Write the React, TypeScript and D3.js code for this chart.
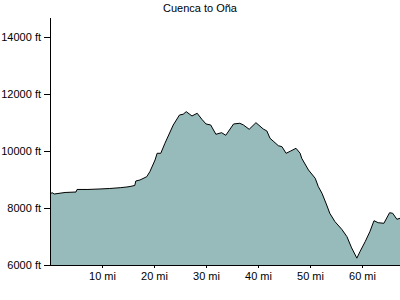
import React, { useEffect, useRef } from "react";
import * as d3 from "d3";

const title = "Cuenca to Oña";
const miles = [
  0, 0.4, 0.8, 2.9, 5.0, 5.2, 7.3, 9.6, 11.5, 13.5, 14.8, 15.4, 16.3, 16.5, 17.3, 18.6, 19.2, 20.2, 20.6, 21.3,
  22.1, 23.7, 24.9, 25.6, 26.2, 27.3, 28.3, 29.2, 30.0, 30.9, 31.9, 33.0, 33.8, 35.3, 36.5, 37.2, 38.3, 39.6,
  41.0, 41.7, 42.3, 42.9, 43.9, 44.6, 45.4, 46.3, 47.3, 48.1, 48.4, 49.7, 51.0, 51.6, 52.3, 53.2, 53.8, 54.8,
  56.1, 57.1, 58.0, 58.7, 59.0, 59.6, 60.6, 61.5, 62.3, 63.1, 64.2, 65.3, 65.9, 66.7, 67.3,
];
const elevation = [
  8480, 8540, 8490, 8544, 8560, 8650, 8650, 8667, 8684, 8712, 8737, 8754, 8790, 8947, 8982, 9098, 9274, 9684, 9919, 9919,
  10270, 10912, 11263, 11288, 11379, 11228, 11323, 11112, 10947, 10912, 10586, 10642, 10551, 10947, 10972, 10912, 10761, 10993,
  10772, 10702, 10446, 10351, 10186, 10151, 9919, 10000, 10095, 9919, 9744, 9333, 9042, 8747, 8516, 8105, 7814, 7519,
  7253, 6993, 6600, 6351, 6240, 6467, 6818, 7168, 7554, 7484, 7463, 7835, 7814, 7604, 7639,
];
const yTicks = [6000, 8000, 10000, 12000, 14000];
const xTicks = [10, 20, 30, 40, 50, 60];

const W = 400;
const H = 300;
const FONT = "'Liberation Sans', Arial, sans-serif";

export default function App() {
  const gx = useRef<SVGGElement>(null);
  const gy = useRef<SVGGElement>(null);

  const x = d3.scaleLinear().domain([0, 67.3]).range([50, 400]);
  const y = d3.scaleLinear().domain([6000, 14700]).range([265, 17]);

  const data = miles.map((m, i) => ({ m, e: elevation[i] }));
  const area = d3
    .area<{ m: number; e: number }>()
    .x((d) => x(d.m))
    .y0(y(6000))
    .y1((d) => y(d.e));
  const line = d3
    .line<{ m: number; e: number }>()
    .x((d) => x(d.m))
    .y((d) => y(d.e));

  useEffect(() => {
    const ax = d3
      .axisBottom(x)
      .tickValues(xTicks)
      .tickSize(3)
      .tickSizeOuter(0)
      .tickPadding(4)
      .tickFormat((d) => `${d} mi`);
    const ay = d3
      .axisLeft(y)
      .tickValues(yTicks)
      .tickSize(6)
      .tickSizeOuter(0)
      .tickPadding(3)
      .tickFormat((d) => `${d} ft`);
    const sx = d3.select(gx.current!).call(ax as any);
    const sy = d3.select(gy.current!).call(ay as any);
    [sx, sy].forEach((s) => {
      s.attr("font-family", FONT).attr("font-size", 11);
      s.selectAll("path,line").attr("stroke", "#000").attr("shape-rendering", "crispEdges");
      s.selectAll("text").attr("fill", "#000");
    });
  }, []);

  return (
    <svg
      width={W}
      height={H}
      style={{ position: "absolute", left: 0, top: 0, background: "#fff" }}
    >
      <text x={200} y={12} textAnchor="middle" fontFamily={FONT} fontSize={11} fill="#000">
        {title}
      </text>
      <path d={area(data) || ""} fill="#97bbbb" stroke="none" />
      <path d={line(data) || ""} fill="none" stroke="#000" strokeWidth={1} />
      <g ref={gx} transform={`translate(0,265)`} />
      <g ref={gy} transform={`translate(50,0)`} />
    </svg>
  );
}
